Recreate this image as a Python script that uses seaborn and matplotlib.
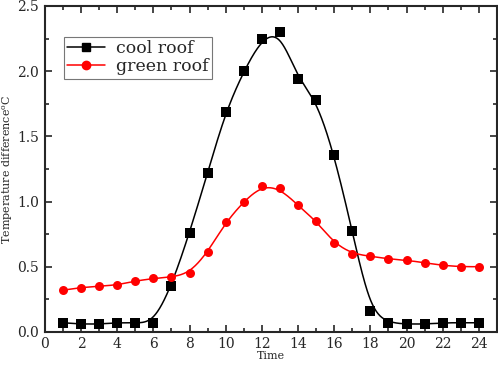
import numpy as np
import pandas as pd
import matplotlib
matplotlib.use("Agg")
import matplotlib.pyplot as plt
from matplotlib.lines import Line2D
from matplotlib.ticker import MultipleLocator
import seaborn as sns

# data
hours = list(range(1, 25))
cool_roof = [0.07, 0.06, 0.06, 0.07, 0.07, 0.07, 0.35, 0.76, 1.22, 1.69, 2.00, 2.25,
             2.30, 1.94, 1.78, 1.36, 0.77, 0.16, 0.07, 0.06, 0.06, 0.07, 0.07, 0.07]
green_roof = [0.32, 0.34, 0.35, 0.36, 0.39, 0.41, 0.42, 0.45, 0.61, 0.84, 1.00, 1.12,
              1.10, 0.97, 0.85, 0.68, 0.60, 0.58, 0.56, 0.55, 0.53, 0.51, 0.50, 0.50]


def bspline(x, y, n=40):
    # clamped uniform cubic B-spline using the data points as control points
    px = np.concatenate([[x[0]] * 2, x, [x[-1]] * 2]).astype(float)
    py = np.concatenate([[y[0]] * 2, y, [y[-1]] * 2]).astype(float)
    t = np.linspace(0, 1, n, endpoint=False)
    b0 = (1 - t) ** 3 / 6
    b1 = (3 * t ** 3 - 6 * t ** 2 + 4) / 6
    b2 = (-3 * t ** 3 + 3 * t ** 2 + 3 * t + 1) / 6
    b3 = t ** 3 / 6
    xs, ys = [], []
    for i in range(len(px) - 3):
        xs.append(b0 * px[i] + b1 * px[i + 1] + b2 * px[i + 2] + b3 * px[i + 3])
        ys.append(b0 * py[i] + b1 * py[i + 1] + b2 * py[i + 2] + b3 * py[i + 3])
    xs.append([x[-1]])
    ys.append([y[-1]])
    return np.concatenate(xs), np.concatenate(ys)


sns.set_style("ticks")
plt.rcParams['font.family'] = ['DejaVu Serif']
plt.rcParams['mathtext.default'] = 'regular'

fig = plt.figure(figsize=(4.98, 3.70), dpi=100)
ax = fig.add_axes([0.090, 0.103, 0.908, 0.881])

series = [("cool roof", cool_roof, "black", "s"), ("green roof", green_roof, "#ff0000", "o")]
handles = []
for name, vals, color, marker in series:
    sx, sy = bspline(np.array(hours), np.array(vals))
    smooth = pd.DataFrame({"Time": sx, "value": sy})
    pts = pd.DataFrame({"Time": hours, "value": vals})
    sns.lineplot(data=smooth, x="Time", y="value", color=color, lw=1.1, ax=ax, sort=False)
    sns.scatterplot(data=pts, x="Time", y="value", color=color, marker=marker,
                    s=42, edgecolor=color, linewidth=0, ax=ax, zorder=3)
    handles.append(Line2D([], [], color=color, marker=marker, markersize=6, lw=1.1, label=name))

ax.set_xlim(0, 25)
ax.set_ylim(0, 2.5)
ax.xaxis.set_major_locator(MultipleLocator(2))
ax.xaxis.set_minor_locator(MultipleLocator(1))
ax.yaxis.set_major_locator(MultipleLocator(0.5))
ax.yaxis.set_minor_locator(MultipleLocator(0.25))
ax.yaxis.set_major_formatter(matplotlib.ticker.FormatStrFormatter('%.1f'))
ax.tick_params(which='both', direction='in', top=True, right=True, width=1.2)
ax.tick_params(which='major', length=5, labelsize=10, pad=4)
ax.tick_params(which='minor', length=3)
for sp in ax.spines.values():
    sp.set_linewidth(1.5)

ax.set_xlabel("Time", fontsize=8, labelpad=0)
ax.set_ylabel(r"Temperature difference$^{o}$C", fontsize=8, labelpad=2)

leg = ax.legend(handles=handles, loc='upper left', bbox_to_anchor=(0.042, 0.905),
                fontsize=12.5, frameon=True, fancybox=False, edgecolor='#555555',
                handlelength=2.2, handletextpad=0.6, borderpad=0.2, labelspacing=0.05,
                borderaxespad=0)
leg.get_frame().set_linewidth(0.8)

fig.savefig("out.png", dpi=100)
